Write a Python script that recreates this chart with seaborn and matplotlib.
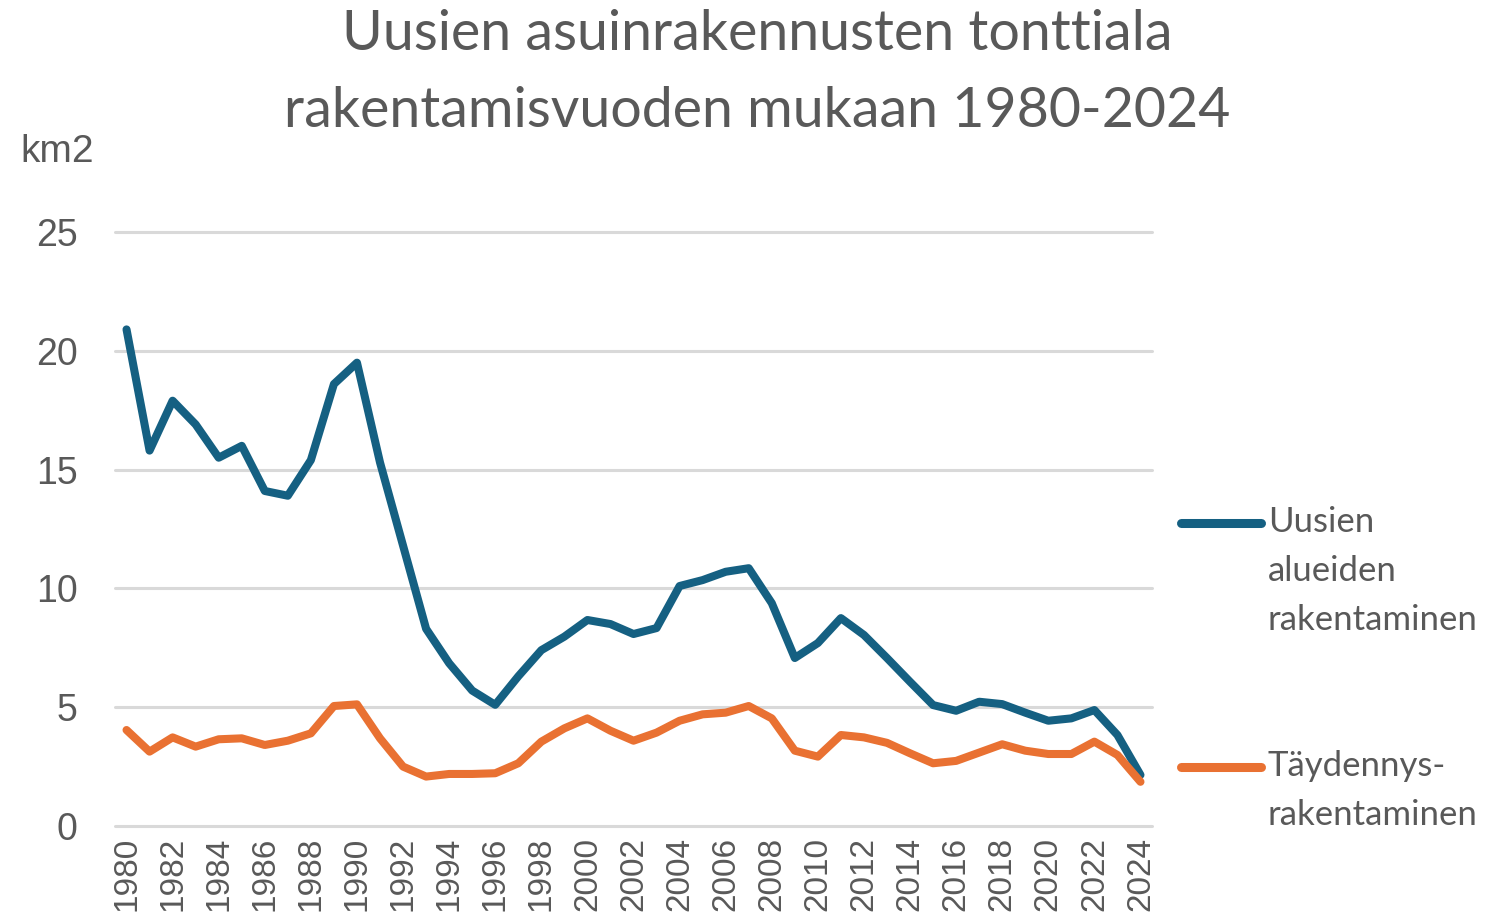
import pandas as pd
import numpy as np
import matplotlib
matplotlib.use("Agg")
import matplotlib.pyplot as plt
import seaborn as sns
from matplotlib.legend_handler import HandlerLine2D

# data (km2 per construction year)
years = list(range(1980, 2025))
uudet_alueet = [20.9, 15.8, 17.9, 16.9, 15.5, 16.0, 14.1, 13.9, 15.4, 18.6,
                19.5, 15.3, 11.8, 8.3, 6.85, 5.7, 5.1, 6.3, 7.4, 7.97,
                8.67, 8.5, 8.08, 8.33, 10.1, 10.35, 10.7, 10.85, 9.38, 7.07,
                7.7, 8.75, 8.04, 7.07, 6.07, 5.09, 4.85, 5.23, 5.13, 4.77,
                4.43, 4.53, 4.88, 3.83, 2.15]
taydennys = [4.04, 3.13, 3.73, 3.34, 3.65, 3.69, 3.41, 3.59, 3.9, 5.05,
             5.12, 3.69, 2.5, 2.08, 2.19, 2.19, 2.22, 2.64, 3.55, 4.11,
             4.53, 4.01, 3.59, 3.93, 4.43, 4.7, 4.77, 5.05, 4.53, 3.17,
             2.92, 3.83, 3.73, 3.5, 3.06, 2.64, 2.74, 3.09, 3.44, 3.17,
             3.03, 3.03, 3.55, 2.99, 1.86]
series_names = ["Uusien\nalueiden\nrakentaminen", "Täydennys-\nrakentaminen"]
colors = ["#156082", "#E97132"]
y_ticks = [0, 5, 10, 15, 20, 25]
x_ticks = years[::2]

df = pd.DataFrame({
    "vuosi": years * 2,
    "km2": uudet_alueet + taydennys,
    "sarja": [series_names[0]] * len(years) + [series_names[1]] * len(years),
})

LEG_SIZE = 25
LEG_SPACING = 1.65


# legend handle next to the first text line (Excel style), not the middle one
class FirstLineHandler(HandlerLine2D):
    def __init__(self, n_lines, **kw):
        super().__init__(**kw)
        self.n_lines = n_lines

    def create_artists(self, legend, orig_handle, xdescent, ydescent,
                       width, height, fontsize, trans):
        artists = super().create_artists(legend, orig_handle, xdescent, ydescent,
                                         width, height, fontsize, trans)
        shift = (self.n_lines - 1) / 2 * fontsize * 1.4
        for a in artists:
            a.set_ydata(np.asarray(a.get_ydata()) + shift)
            a.set_solid_capstyle("round")
        return artists


sns.set_theme(style="white")
plt.rcParams["font.family"] = ["Liberation Sans", "DejaVu Sans"]

fig = plt.figure(figsize=(14.91, 9.16), dpi=100)
ax = fig.add_axes([115 / 1491, 1 - 826 / 916, (1152 - 115) / 1491, (826 - 232) / 916])

sns.lineplot(data=df, x="vuosi", y="km2", hue="sarja", palette=colors,
             linewidth=5.8, ax=ax, solid_capstyle="round")

ax.set_xlim(1979.5, 2024.5)
ax.set_ylim(0, 25)
ax.set_yticks(y_ticks)
ax.set_xticks(x_ticks)
ax.set_xticklabels([str(y) for y in x_ticks], rotation=90)
ax.tick_params(axis="y", length=0, pad=27, labelsize=27, labelcolor="#595959")
ax.tick_params(axis="x", length=0, pad=8, labelsize=24, labelcolor="#595959")
ax.set_xlabel("")
ax.set_ylabel("")
ax.yaxis.grid(True, color="#D9D9D9", linewidth=2.2)
ax.xaxis.grid(False)
for gl in ax.get_ygridlines():
    gl.set_clip_on(False)
ax.set_axisbelow(True)
sns.despine(ax=ax, left=True, bottom=True)

handles, labels = ax.get_legend_handles_labels()
handler_map = {h: FirstLineHandler(lab.count("\n") + 1) for h, lab in zip(handles, labels)}
leg = ax.legend(handles, labels, handler_map=handler_map,
                loc="center left", bbox_to_anchor=(0.998, 0.265), frameon=False,
                handlelength=2.3, handletextpad=0.2, labelspacing=3.3,
                prop={"family": "Lato", "size": LEG_SIZE})
for t in leg.get_texts():
    t.set_color("#595959")
    t.set_linespacing(LEG_SPACING)
for h in leg.get_lines():
    h.set_linewidth(6.5)

fig.suptitle("Uusien asuinrakennusten tonttiala\nrakentamisvuoden mukaan 1980-2024",
             x=0.508, y=0.99, fontsize=40, family="Lato", color="#595959",
             linespacing=1.62)
fig.text(20 / 1491, 1 - 152 / 916, "km2", fontsize=28, color="#595959",
         ha="left", va="center")

fig.savefig("out.png", dpi=100)
